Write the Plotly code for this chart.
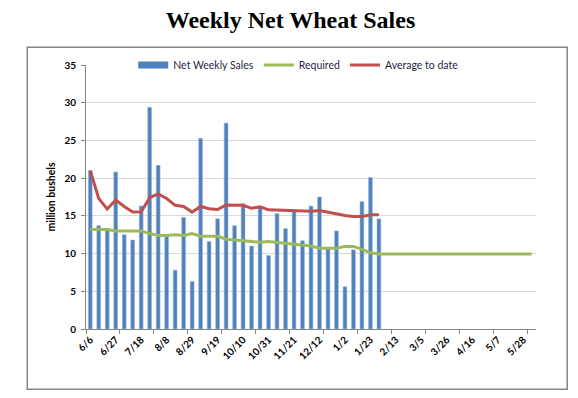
import plotly.graph_objects as go

weeks = ["6/6", "6/13", "6/20", "6/27", "7/4", "7/11", "7/18", "7/25", "8/1", "8/8",
         "8/15", "8/22", "8/29", "9/5", "9/12", "9/19", "9/26", "10/3", "10/10", "10/17",
         "10/24", "10/31", "11/7", "11/14", "11/21", "11/28", "12/5", "12/12", "12/19", "12/26",
         "1/2", "1/9", "1/16", "1/23", "1/30", "2/6", "2/13", "2/20", "2/27", "3/5",
         "3/12", "3/19", "3/26", "4/2", "4/9", "4/16", "4/23", "4/30", "5/7", "5/14",
         "5/21", "5/28", "6/4"]

tick_labels = ["6/6", "6/27", "7/18", "8/8", "8/29", "9/19", "10/10", "10/31", "11/21",
               "12/12", "1/2", "1/23", "2/13", "3/5", "3/26", "4/16", "5/7", "5/28"]

net_weekly_sales = [21.0, 13.7, 13.2, 20.8, 12.5, 11.8, 16.3, 29.4, 21.7, 12.3,
                    7.8, 14.8, 6.3, 25.3, 11.6, 14.6, 27.3, 13.7, 16.6, 11.0,
                    16.2, 9.75, 15.3, 13.3, 15.6, 11.7, 16.3, 17.5, 10.6, 13.0,
                    5.6, 10.5, 16.9, 20.1, 14.6]

average_to_date = [21.0, 17.3, 15.9, 17.1, 16.25, 15.5, 15.55, 17.4, 17.9, 17.3,
                   16.4, 16.25, 15.5, 16.25, 15.95, 15.85, 16.45, 16.4, 16.4, 16.0,
                   16.2, 15.8, 15.75, 15.7, 15.7, 15.6, 15.6, 15.7, 15.45, 15.3,
                   15.05, 14.9, 14.9, 15.15, 15.15]

required = [13.2, 13.2, 13.2, 13.0, 13.0, 13.05, 13.0, 12.65, 12.4, 12.4,
            12.5, 12.4, 12.65, 12.3, 12.3, 12.3, 11.9, 11.85, 11.7, 11.6,
            11.5, 11.6, 11.5, 11.35, 11.2, 11.1, 11.0, 10.7, 10.7, 10.7,
            10.95, 10.95, 10.55, 10.1, 9.95, 9.95, 9.95, 9.95, 9.95, 9.95,
            9.95, 9.95, 9.95, 9.95, 9.95, 9.95, 9.95, 9.95, 9.95, 9.95,
            9.95, 9.95, 9.95]

n_weeks = len(weeks)
minor_tick_positions = [i - 0.5 for i in range(0, n_weeks + 1, 4)]

# page offset (default body margin) compensation
OFF = 8
W, H = 578 - OFF, 398 - OFF
ML, MR, MT, MB = 85.5 - OFF, 42, 65 - OFF, 69
pw = W - ML - MR
ph = H - MT - MB

def px_x(p):
    return (p - OFF - ML) / pw

def px_y(p):
    return (H - MB - (p - OFF)) / ph

BLUE, GREEN, RED = "#4F81BD", "#9BBB59", "#C0504D"

fig = go.Figure()

fig.add_trace(go.Bar(
    x=weeks[:len(net_weekly_sales)], y=net_weekly_sales, name="Net Weekly Sales",
    marker=dict(color=BLUE, line=dict(color="#9DB9DD", width=0.6)),
    width=0.45, showlegend=False,
))
# legend swatch for the bars (flat wide rectangle like the original)
fig.add_trace(go.Scatter(x=[None], y=[None], name="Net Weekly Sales", mode="lines",
                         line=dict(color=BLUE, width=7), hoverinfo="skip"))
fig.add_trace(go.Scatter(
    x=weeks[:len(required)], y=required, name="Required", mode="lines",
    line=dict(color=GREEN, width=3),
))
fig.add_trace(go.Scatter(
    x=weeks[:len(average_to_date)], y=average_to_date, name="Average to date", mode="lines",
    line=dict(color=RED, width=3),
))
# dummy trace to carry the tick-mark axis
fig.add_trace(go.Scatter(x=[None], y=[None], xaxis="x2", showlegend=False, hoverinfo="skip"))

axis_gray = "#868686"
FONT = "Lato, Liberation Sans, sans-serif"
tick_font = dict(family=FONT, size=10, color="#000000", weight="bold")

fig.update_layout(
    width=W, height=H,
    margin=dict(l=ML, r=MR, t=MT, b=MB, autoexpand=False),
    paper_bgcolor="white", plot_bgcolor="white",
    title=dict(text="Weekly Net Wheat Sales", x=(290.5 - OFF) / W, xref="container",
               xanchor="center", y=1 - (20 - OFF) / H, yanchor="middle", yref="container",
               font=dict(family="Liberation Serif, Times New Roman, serif", size=24,
                         color="#000000", weight="bold")),
    xaxis=dict(type="category", categoryorder="array", categoryarray=weeks,
               range=[-0.5, n_weeks - 0.5],
               tickmode="array", tickvals=tick_labels, ticktext=tick_labels,
               tickangle=-45, ticks="", showgrid=False,
               showline=True, linecolor=axis_gray, linewidth=1,
               tickfont=tick_font, zeroline=False),
    xaxis2=dict(overlaying="x", anchor="y", side="bottom", type="linear",
                range=[-0.5, n_weeks - 0.5], tickmode="array",
                tickvals=minor_tick_positions, ticks="outside", ticklen=4,
                tickcolor=axis_gray, showticklabels=False, showgrid=False,
                showline=False, zeroline=False),
    yaxis=dict(range=[0, 35], dtick=5, tick0=0, showgrid=True, gridcolor="#D9D9D9",
               gridwidth=1, showline=True, linecolor=axis_gray, linewidth=1,
               ticks="outside", ticklen=4, tickcolor=axis_gray, zeroline=False,
               tickfont=tick_font, ticklabelstandoff=3,
               title=dict(text="million bushels", standoff=6,
                          font=dict(family=FONT, size=10.5, color="#000000", weight="bold"))),
    legend=dict(orientation="h", x=px_x(298), xanchor="center", y=1.0, yanchor="middle",
                bgcolor="white", font=dict(family=FONT, size=10.5, color="#1F1F3F"),
                itemwidth=30, tracegroupgap=0),
    shapes=[dict(type="rect", xref="paper", yref="paper",
                 x0=px_x(26.7), x1=px_x(567.3), y0=px_y(389.3), y1=px_y(47.3),
                 line=dict(color=axis_gray, width=1.5), fillcolor="rgba(0,0,0,0)",
                 layer="below")],
)

fig.write_html("out.html")
